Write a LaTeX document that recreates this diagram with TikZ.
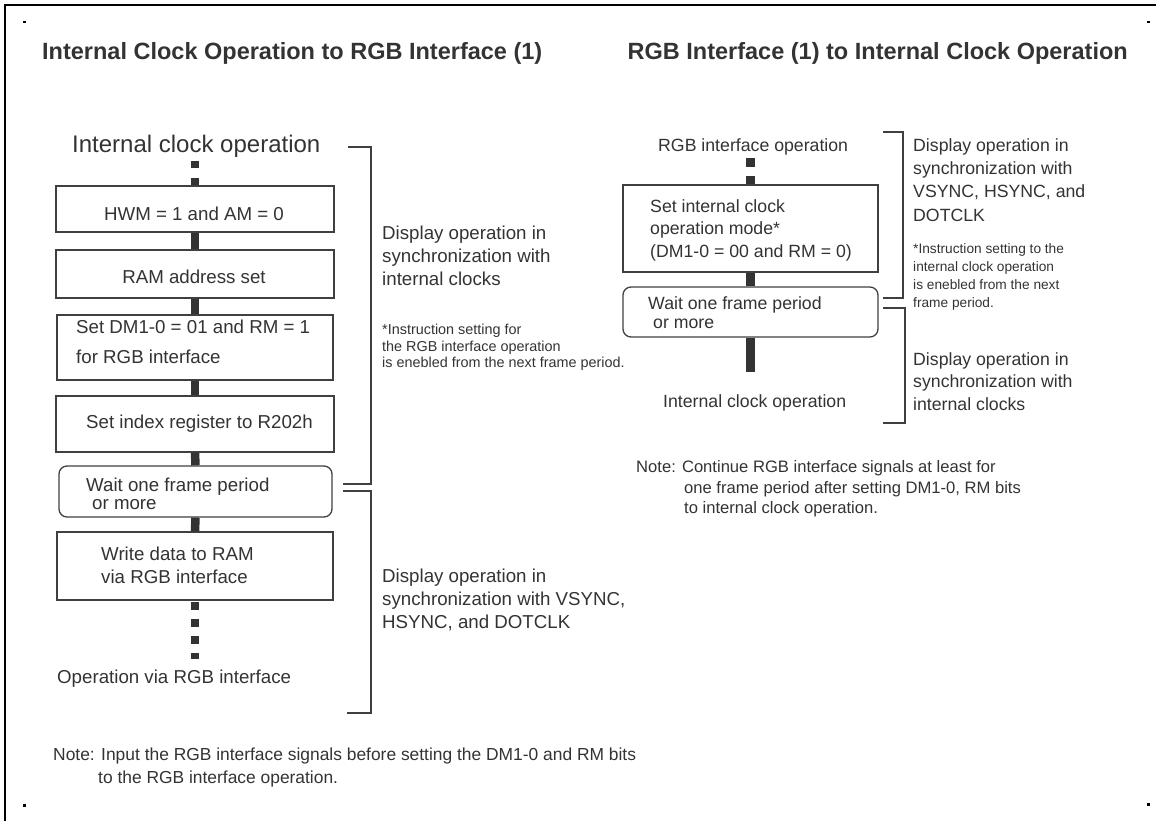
\documentclass[tikz,border=0pt]{standalone}
\usepackage{fontspec}
\setmainfont{Liberation Sans}
\definecolor{ink}{HTML}{333333}
\definecolor{edge}{HTML}{404040}
\tikzset{
 T/.style={anchor=base west, inner sep=0pt, text=ink, font=\fontsize{18.7}{22}\selectfont},
 TC/.style={T, anchor=base},
 TR/.style={T, font=\fontsize{17.7}{21}\selectfont},
 FN/.style={T, font=\fontsize{14.4}{17}\selectfont},
 FNR/.style={T, font=\fontsize{13.7}{16}\selectfont},
 NT/.style={T, font=\fontsize{17.4}{21}\selectfont},
 NTR/.style={T, font=\fontsize{16.6}{20}\selectfont},
 TT/.style={T, font=\bfseries\fontsize{23.5}{28}\selectfont},
 BIG/.style={T, font=\fontsize{24}{28}\selectfont},
 box/.style={draw=edge, line width=1.3pt, inner sep=0pt, fill=white},
 rbox/.style={box, rounded corners=8pt},
 conn/.style={draw=ink, line width=8.5pt},
 dconn/.style={conn, dash pattern=on 7.5pt off 9.5pt},
 dconnr/.style={conn, dash pattern=on 9pt off 9pt},
 brk/.style={draw=edge, line width=1.3pt},
 dot/.style={fill=black},
}
\begin{document}
\begin{tikzpicture}[x=1pt,y=-1pt]
\useasboundingbox (0,0) rectangle (1156,821);
% frame and corner dots
\draw[line width=2pt] (5,821) -- (5,5) -- (1156,5);
\fill[dot] (23,21) rectangle (25.5,23.5);
\fill[dot] (1147,21) rectangle (1149.5,23.5);
\fill[dot] (23,804) rectangle (25.5,806.5);
\fill[dot] (1147,803) rectangle (1149.5,805.5);

% titles
\node[TT] (title1) at (42,60) {Internal Clock Operation to RGB Interface (1)};
\node[TT, anchor=base east] (title2) at (1128,60) {RGB Interface (1) to Internal Clock Operation};

% ---------------- left flow ----------------
\node[BIG] (lstart) at (72,153) {Internal clock operation};
\node[box, minimum width=278pt, minimum height=46pt] (b1) at (195,209) {};
\node[box, minimum width=278pt, minimum height=48pt] (b2) at (195,274) {};
\node[box, minimum width=276pt, minimum height=65pt] (b3) at (195,347.5) {};
\node[box, minimum width=278pt, minimum height=56pt] (b4) at (195,424) {};
\node[rbox, minimum width=273pt, minimum height=51pt] (b5) at (195.5,491.5) {};
\node[box, minimum width=276pt, minimum height=68pt] (b6) at (195,566) {};

\coordinate (d1) at (195,161);
\coordinate (d2a) at (195,602);
\coordinate (d2b) at (195,659);
\draw[dconn] (d1) -- (b1.north);
\draw[conn] (b1.south) -- (b2.north);
\draw[conn] (b2.south) -- (b3.north);
\draw[conn] (b3.south) -- (b4.north);
\draw[conn] (b4.south) -- (b5.north);
\draw[conn] (b5.south) -- (b6.north);
\draw[dconn] (d2a) -- (d2b);

\node[TC] (b1t) at (194,220) {HWM = 1 and AM = 0};
\node[TC] (b2t) at (194,283) {RAM address set};
\node[T] (b3t1) at (76,333) {Set DM1-0 = 01 and RM = 1};
\node[T] (b3t2) at (76,363) {for RGB interface};
\node[T] (b4t) at (86,428) {Set index register to R202h};
\node[T] (b5t1) at (86,491) {Wait one frame period};
\node[T] (b5t2) at (92,509) {or more};
\node[T] (b6t1) at (101,560) {Write data to RAM};
\node[T] (b6t2) at (101,583) {via RGB interface};
\node[T] (lend) at (57,683) {Operation via RGB interface};

% left brackets
\draw[brk] (348,147) -| (371,484) -- (343,484);
\draw[brk] (343,491) -| (371,713) -- (347,713);

\node[T] (l1a) at (382,239) {Display operation in};
\node[T] (l1b) at (382,262) {synchronization with};
\node[T] (l1c) at (382,285) {internal clocks};
\node[FN] (f1a) at (382,334) {*Instruction setting for};
\node[FN] (f1b) at (382,351) {the RGB interface operation};
\node[FN] (f1c) at (382,367) {is enebled from the next frame period.};
\node[T] (l2a) at (382,582) {Display operation in};
\node[T] (l2b) at (382,605) {synchronization with VSYNC,};
\node[T] (l2c) at (382,628) {HSYNC, and DOTCLK};

\node[NT] (n1a) at (53,760) {Note: Input the RGB interface signals before setting the DM1-0 and RM bits};
\node[NT] (n1b) at (98,783) {to the RGB interface operation.};

% ---------------- right flow ----------------
\node[TR] (rstart) at (658,152) {RGB interface operation};
\node[box, minimum width=255pt, minimum height=87pt] (r1) at (750.5,228.5) {};
\node[rbox, minimum width=255pt, minimum height=50pt] (r2) at (750.5,312) {};
\coordinate (rd) at (750.5,158);
\coordinate (re) at (750.5,372);
\draw[dconnr] (rd) -- (r1.north);
\draw[conn] (r1.south) -- (r2.north);
\draw[conn] (r2.south) -- (re);

\node[TR] (r1t1) at (650,212) {Set internal clock};
\node[TR] (r1t2) at (650,234) {operation mode*};
\node[TR] (r1t3) at (650,257) {(DM1-0 = 00 and RM = 0)};
\node[TR] (r2t1) at (648,309) {Wait one frame period};
\node[TR] (r2t2) at (653,328) {or more};
\node[TR] (rend) at (663,407) {Internal clock operation};

\draw[brk] (883,132) -| (903,298) -- (883,298);
\draw[brk] (883,308) -| (905,423) -- (883,423);

\node[TR] (ra1) at (913,152) {Display operation in};
\node[TR] (ra2) at (913,175) {synchronization with};
\node[TR] (ra3) at (913,198) {VSYNC, HSYNC, and};
\node[TR] (ra4) at (913,222) {DOTCLK};
\node[FNR] (rf1) at (913,253) {*Instruction setting to the};
\node[FNR] (rf2) at (913,271) {internal clock operation};
\node[FNR] (rf3) at (913,289) {is enebled from the next};
\node[FNR] (rf4) at (913,307) {frame period.};
\node[TR] (rb1) at (913,365) {Display operation in};
\node[TR] (rb2) at (913,387) {synchronization with};
\node[TR] (rb3) at (913,410) {internal clocks};

\node[NTR] (n2a) at (636,472) {Note: Continue RGB interface signals at least for};
\node[NTR] (n2b) at (684,493) {one frame period after setting DM1-0, RM bits};
\node[NTR] (n2c) at (684,513) {to internal clock operation.};
\end{tikzpicture}
\end{document}
